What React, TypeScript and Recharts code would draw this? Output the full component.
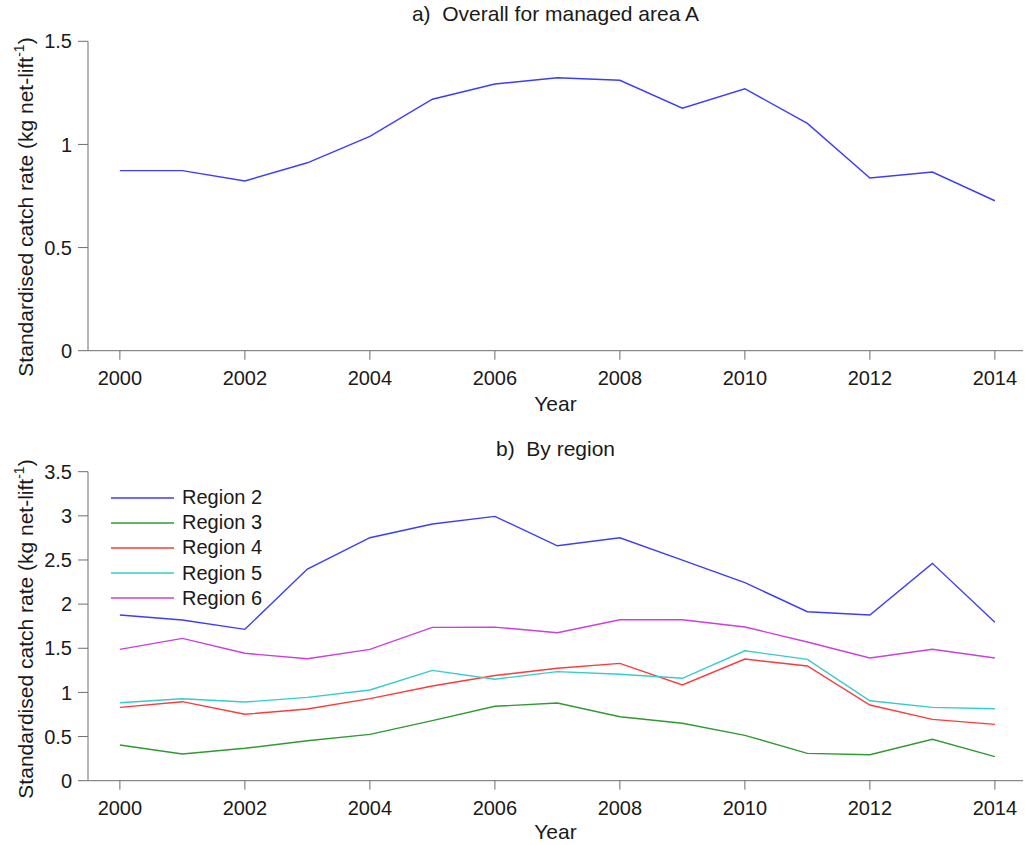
import { LineChart, Line, XAxis, YAxis } from "recharts";

const years = [2000, 2001, 2002, 2003, 2004, 2005, 2006, 2007, 2008, 2009, 2010, 2011, 2012, 2013, 2014];
const yearTicks = [2000, 2002, 2004, 2006, 2008, 2010, 2012, 2014];

const overall = [0.873, 0.873, 0.823, 0.911, 1.039, 1.219, 1.293, 1.323, 1.311, 1.176, 1.27, 1.102, 0.837, 0.866, 0.727];

const region2 = [1.877, 1.82, 1.714, 2.397, 2.752, 2.907, 2.994, 2.661, 2.752, 2.499, 2.243, 1.914, 1.877, 2.462, 1.794];
const region3 = [0.404, 0.302, 0.367, 0.453, 0.525, 0.68, 0.843, 0.88, 0.725, 0.65, 0.514, 0.31, 0.294, 0.469, 0.272];
const region4 = [0.831, 0.895, 0.752, 0.812, 0.929, 1.072, 1.192, 1.273, 1.329, 1.084, 1.378, 1.299, 0.857, 0.695, 0.638];
const region5 = [0.883, 0.929, 0.891, 0.944, 1.027, 1.25, 1.15, 1.235, 1.205, 1.16, 1.472, 1.375, 0.906, 0.831, 0.815];
const region6 = [1.488, 1.612, 1.443, 1.382, 1.488, 1.737, 1.74, 1.676, 1.823, 1.823, 1.741, 1.571, 1.39, 1.488, 1.39];

const overallTicks = [0, 0.5, 1, 1.5];
const regionTicks = [0, 0.5, 1, 1.5, 2, 2.5, 3, 3.5];

const regions = [
  { key: "r2", name: "Region 2", color: "#3c3cff", values: region2 },
  { key: "r3", name: "Region 3", color: "#2f9a2f", values: region3 },
  { key: "r4", name: "Region 4", color: "#ff3a3a", values: region4 },
  { key: "r5", name: "Region 5", color: "#35cccc", values: region5 },
  { key: "r6", name: "Region 6", color: "#cc3fdd", values: region6 },
];

const overallData = years.map((year, i) => ({ year, value: overall[i] }));
const regionData = years.map((year, i) => {
  const row: Record<string, number> = { year };
  regions.forEach((r) => (row[r.key] = r.values[i]));
  return row;
});

const FONT = '"Liberation Sans", Arial, Helvetica, sans-serif';
const AXIS = "#6e6e6e";
const xDomain = [1999.49, 2014.45];

const tickStyle = { fontSize: 20, fill: "#1a1a1a", fontFamily: FONT };

function YLabel({ cy }: { cy: number }) {
  return (
    <text
      x={33}
      y={cy}
      transform={`rotate(-90, 33, ${cy})`}
      textAnchor="middle"
      fontSize={21}
      fontFamily={FONT}
      fill="#1a1a1a"
    >
      Standardised catch rate (kg net-lift
      <tspan dy={-9} fontSize={14}>
        -1
      </tspan>
      <tspan dy={9}>)</tspan>
    </text>
  );
}

// legend box for the region panel, placed over the upper-left of the plot
function RegionLegend() {
  return (
    <div
      style={{
        position: "absolute",
        left: 111,
        top: 485,
        fontFamily: FONT,
        fontSize: 20,
        color: "#1a1a1a",
      }}
    >
      {regions.map((r) => (
        <div key={r.key} style={{ display: "flex", alignItems: "center", height: 25.2 }}>
          <svg width={63} height={4} style={{ marginRight: 8 }}>
            <line x1={0} y1={2} x2={63} y2={2} stroke={r.color} strokeWidth={1.5} />
          </svg>
          <span>{r.name}</span>
        </div>
      ))}
    </div>
  );
}

function Title({ text, top }: { text: string; top: number }) {
  return (
    <div
      style={{
        position: "absolute",
        left: 88,
        width: 935,
        top,
        textAlign: "center",
        fontFamily: FONT,
        fontSize: 21,
        color: "#1a1a1a",
        whiteSpace: "pre",
        lineHeight: "24px",
      }}
    >
      {text}
    </div>
  );
}

export default function App() {
  return (
    <div style={{ position: "absolute", left: 0, top: 0, width: 1025, height: 845, background: "#fff" }}>
      <Title text="a)  Overall for managed area A" top={2} />
      <div style={{ position: "absolute", left: 0, top: 0 }}>
        <LineChart width={1025} height={430} data={overallData} margin={{ top: 41.3, right: 2, bottom: 0, left: 0 }}>
          <XAxis
            dataKey="year"
            type="number"
            domain={xDomain}
            ticks={yearTicks}
            allowDataOverflow
            height={79.3}
            stroke={AXIS}
            tickSize={9}
            tickMargin={11}
            tick={tickStyle}
            label={{ value: "Year", position: "insideBottom", offset: 19, fontSize: 21, fontFamily: FONT, fill: "#1a1a1a" }}
          />
          <YAxis
            type="number"
            domain={[0, 1.5]}
            ticks={overallTicks}
            width={88}
            stroke={AXIS}
            tickSize={10}
            tickMargin={6}
            tick={tickStyle}
          />
          <Line dataKey="value" stroke="#3c3cff" strokeWidth={1.4} dot={false} isAnimationActive={false} />
          <YLabel cy={207} />
        </LineChart>
      </div>

      <Title text="b)  By region" top={437} />
      <div style={{ position: "absolute", left: 0, top: 430 }}>
        <LineChart width={1025} height={415} data={regionData} margin={{ top: 41.7, right: 2, bottom: 0, left: 0 }}>
          <XAxis
            dataKey="year"
            type="number"
            domain={xDomain}
            ticks={yearTicks}
            allowDataOverflow
            height={64.3}
            stroke={AXIS}
            tickSize={9}
            tickMargin={11}
            tick={tickStyle}
            label={{ value: "Year", position: "insideBottom", offset: 6, fontSize: 21, fontFamily: FONT, fill: "#1a1a1a" }}
          />
          <YAxis
            type="number"
            domain={[0, 3.5]}
            ticks={regionTicks}
            width={88}
            stroke={AXIS}
            tickSize={10}
            tickMargin={6}
            tick={tickStyle}
          />
          {regions.map((r) => (
            <Line
              key={r.key}
              dataKey={r.key}
              name={r.name}
              stroke={r.color}
              strokeWidth={1.4}
              dot={false}
              isAnimationActive={false}
            />
          ))}
          <YLabel cy={199} />
        </LineChart>
      </div>
      <RegionLegend />
    </div>
  );
}
